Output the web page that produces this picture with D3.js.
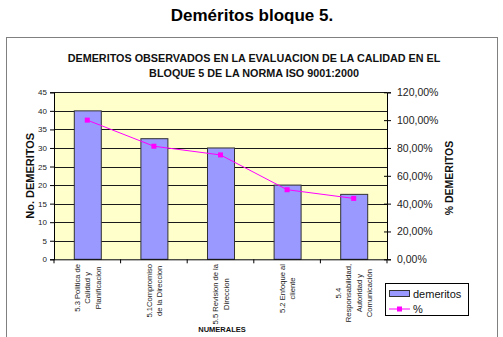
<!DOCTYPE html>
<html><head><meta charset="utf-8">
<script src="https://cdn.jsdelivr.net/npm/d3@7"></script>
<style>body{margin:0;background:#fff;font-family:Arial,"Liberation Sans",sans-serif;}</style>
</head><body>
<svg id="c" width="503" height="337"></svg>
<script>
const categories = [
  ["5.3 Politica de","Calidad y","Planificacion"],
  ["5.1Compromiso","de la Direccion"],
  ["5.5 Revision de la","Direccion"],
  ["5.2 Enfoque al","cliente"],
  ["5.4","Responsabilidad,","Autoridad y","Comunicación"]
];
const demeritos = [40, 32.5, 30, 20, 17.5];
const porcentaje = [100, 81.25, 75, 50, 43.75];
const leftTicks = [0,5,10,15,20,25,30,35,40,45];
const rightTicks = [0,20,40,60,80,100,120];

const svg = d3.select("#c");
const font = "Arial, 'Liberation Sans', sans-serif";

svg.append("text").attr("x",252).attr("y",21).attr("text-anchor","middle")
  .attr("font-family",font).attr("font-weight","bold").attr("font-size",17).text("Deméritos bloque 5.");

svg.append("rect").attr("x",6.5).attr("y",37.5).attr("width",491).attr("height",320)
  .attr("fill","#fff").attr("stroke","#808080").attr("stroke-width",1);

svg.append("text").attr("x",254).attr("y",62).attr("text-anchor","middle")
  .attr("font-family",font).attr("font-weight","bold").attr("font-size",10.8).attr("fill","#111")
  .text("DEMERITOS OBSERVADOS EN LA EVALUACION DE LA CALIDAD EN EL");
svg.append("text").attr("x",254).attr("y",77).attr("text-anchor","middle")
  .attr("font-family",font).attr("font-weight","bold").attr("font-size",10.8).attr("fill","#111")
  .text("BLOQUE 5 DE LA NORMA ISO 9001:2000");

const L=54, R=387, T=92.3, B=259.3;
const x = d3.scaleBand().domain(d3.range(categories.length)).range([L,R]).paddingInner(0).paddingOuter(0);
const y = d3.scaleLinear().domain([0,45]).range([B,T]);
const y2 = d3.scaleLinear().domain([0,120]).range([B,T]);

svg.append("rect").attr("x",L).attr("y",T).attr("width",R-L).attr("height",B-T).attr("fill","#FFFFCC");

svg.append("g").selectAll("line").data(leftTicks.filter(d=>d>0)).join("line")
  .attr("x1",L).attr("x2",R).attr("y1",d=>Math.round(y(d))+0.5).attr("y2",d=>Math.round(y(d))+0.5)
  .attr("stroke","#1a1a1a").attr("stroke-width",1);

// bars
const bw = 27;
svg.append("g").selectAll("rect").data(demeritos).join("rect")
  .attr("x",(d,i)=>x(i)+x.bandwidth()/2-bw/2+0.5).attr("width",bw)
  .attr("y",d=>y(d)).attr("height",d=>B-y(d))
  .attr("fill","#9999FF").attr("stroke","#333").attr("stroke-width",1);

// left axis
const ga = svg.append("g").attr("transform",`translate(${L},0)`)
  .call(d3.axisLeft(y).tickValues(leftTicks).tickSize(4).tickPadding(3));
ga.select(".domain").attr("stroke","#000");
ga.selectAll("line").attr("stroke","#000");
ga.selectAll("text").attr("font-family",font).attr("font-size",8).attr("fill","#222");

// right axis
const gr = svg.append("g").attr("transform",`translate(${R},0)`)
  .call(d3.axisRight(y2).tickValues(rightTicks).tickSize(4).tickPadding(6)
    .tickFormat(d=>d.toFixed(2).replace(".",",")+"%"));
gr.select(".domain").attr("stroke","#000");
gr.selectAll(".tick line").attr("x1",-3).attr("stroke","#000");
gr.selectAll("text").attr("font-family",font).attr("font-size",10.5).attr("fill","#222");

// bottom axis
const gb = svg.append("g").attr("transform",`translate(0,${B})`);
gb.append("line").attr("x1",L).attr("x2",R).attr("y1",0.5).attr("y2",0.5).attr("stroke","#000");
gb.selectAll(".t").data(d3.range(categories.length+1)).join("line").attr("class","t")
  .attr("x1",i=>L+i*x.bandwidth()).attr("x2",i=>L+i*x.bandwidth()).attr("y1",0).attr("y2",4).attr("stroke","#000");

// category labels
categories.forEach((lines,i)=>{
  const cx = x(i)+x.bandwidth()/2;
  const g = svg.append("g");
  const n = lines.length, lh = 10.5;
  const texts = lines.map((s,j)=>g.append("text")
    .attr("font-family",font).attr("font-size",7.6).attr("fill","#222")
    .attr("text-anchor","middle").text(s));
  const maxW = d3.max(texts, t=>t.node().getComputedTextLength());
  const cy = 264 + maxW/2;
  texts.forEach((t,j)=>{
    const lx = cx + (j-(n-1)/2)*lh + 3;
    t.attr("transform",`translate(${lx},${cy}) rotate(-90)`);
  });
});

svg.append("text").attr("x",222).attr("y",332).attr("text-anchor","middle")
  .attr("font-family",font).attr("font-weight","bold").attr("font-size",7.5).attr("fill","#111").text("NUMERALES");

svg.append("text").attr("transform",`translate(34,${(T+B)/2}) rotate(-90)`).attr("text-anchor","middle")
  .attr("font-family",font).attr("font-weight","bold").attr("font-size",11).attr("fill","#111").text("No. DEMERITOS");
svg.append("text").attr("transform",`translate(453,178) rotate(-90)`).attr("text-anchor","middle")
  .attr("font-family",font).attr("font-weight","bold").attr("font-size",10.5).attr("fill","#111").text("% DEMERITOS");

// line
const line = d3.line().x((d,i)=>x(i)+x.bandwidth()/2).y(d=>y2(d));
svg.append("path").datum(porcentaje).attr("d",line).attr("fill","none").attr("stroke","#FF00FF").attr("stroke-width",1);
svg.append("g").selectAll("rect").data(porcentaje).join("rect")
  .attr("x",(d,i)=>x(i)+x.bandwidth()/2-2.5).attr("y",d=>y2(d)-2.5).attr("width",5).attr("height",5)
  .attr("fill","#FF00FF");

// legend
const lg = svg.append("g");
lg.append("rect").attr("x",385.5).attr("y",283.5).attr("width",83).attr("height",32).attr("fill","#fff").attr("stroke","#000");
lg.append("rect").attr("x",389.5).attr("y",290.5).attr("width",20).attr("height",6).attr("fill","#9999FF").attr("stroke","#333");
lg.append("text").attr("x",413).attr("y",297.5).attr("font-family",font).attr("font-size",11).attr("fill","#111").text("demeritos");
lg.append("line").attr("x1",389).attr("x2",410).attr("y1",309).attr("y2",309).attr("stroke","#FF00FF");
lg.append("rect").attr("x",397).attr("y",306.5).attr("width",5).attr("height",5).attr("fill","#FF00FF");
lg.append("text").attr("x",413).attr("y",313).attr("font-family",font).attr("font-size",11).attr("fill","#111").text("%");
</script>
</body></html>
